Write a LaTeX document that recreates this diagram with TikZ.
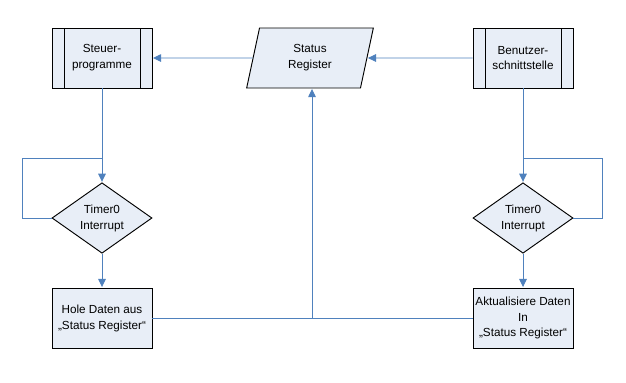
\documentclass[tikz,border=0pt]{standalone}
\usepackage{fontspec}
\setmainfont{Liberation Sans}
\usepackage{tikz}
\usetikzlibrary{arrows.meta,positioning,shapes.geometric}

\definecolor{boxfill}{RGB}{232,238,247}
\definecolor{flowblue}{RGB}{79,129,189}

\begin{document}
\begin{tikzpicture}[
  x=0.03cm, y=-0.03cm,
  font=\fontsize{10}{13.6}\selectfont,
  process/.style={draw, line width=0.8pt, fill=boxfill, minimum width=3cm, minimum height=1.8cm, align=center, inner sep=1pt},
  subprocess/.style={process, path picture={
      \draw[line width=0.8pt] ([xshift=0.36cm]path picture bounding box.north west) -- ([xshift=0.36cm]path picture bounding box.south west);
      \draw[line width=0.8pt] ([xshift=-0.36cm]path picture bounding box.north east) -- ([xshift=-0.36cm]path picture bounding box.south east);}},
  data/.style={draw, line width=0.8pt, fill=boxfill, trapezium, trapezium left angle=66, trapezium right angle=114, trapezium stretches body, minimum width=3.8cm, minimum height=1.8cm, align=center, inner sep=1pt},
  decision/.style={draw, line width=0.8pt, fill=boxfill, diamond, minimum width=3cm, minimum height=1.77cm, align=center, inner sep=0pt},
  line/.style={draw=flowblue, line width=0.8pt},
  arr/.style={line, -{Triangle[width=6.5pt,length=7pt]}, shorten >=0.4pt}
]
\useasboundingbox (0,0) rectangle (626,382);

\node[subprocess] (steuer) at (102,58) {Steuer-\\programme};
\node[data] (status) at (310,58) {Status\\Register};
\node[subprocess] (benutzer) at (523,58) {Benutzer-\\schnittstelle};
\node[decision] (timerl) at (102,218) {Timer0\\Interrupt};
\node[decision] (timerr) at (523,218) {Timer0\\Interrupt};
\node[process] (hole) at (102,318) {Hole Daten aus\\„Status Register“};
\node[process] (aktual) at (523,318) {Aktualisiere Daten\\In\\„Status Register“};

% loops round the timer
\coordinate (loopl) at (22,158);
\coordinate (loopr) at (602,158);
\coordinate (mid) at (312,318);

\draw[arr] (benutzer) -- (status);
\draw[arr] (status) -- (steuer);
\draw[arr] (steuer) -- (timerl);
\draw[arr] (benutzer) -- (timerr);
\draw[line] (timerl.west) -| (loopl) -- (loopl -| timerl.north);
\draw[line] (timerr.east) -| (loopr) -- (loopr -| timerr.north);
\draw[arr] (timerl) -- (hole);
\draw[arr] (timerr) -- (aktual);
\draw[line] (hole) -- (aktual);
\draw[arr] (mid) -- (mid |- status.south);
\end{tikzpicture}
\end{document}
